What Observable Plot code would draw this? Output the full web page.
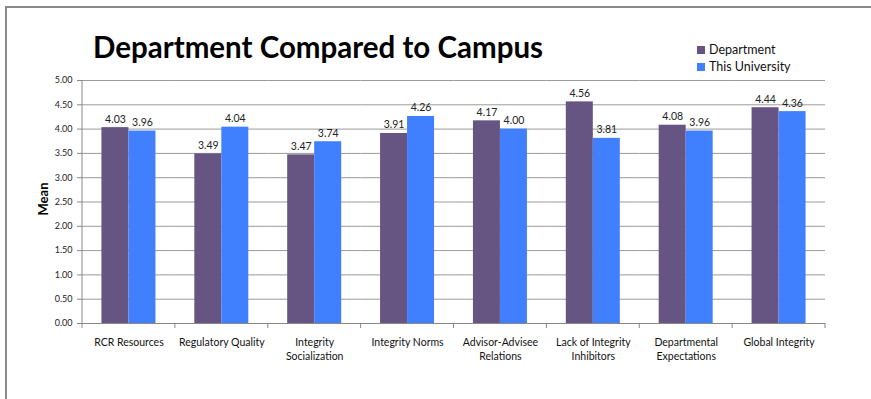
<!DOCTYPE html>
<html><head><meta charset="utf-8">
<script src="https://cdn.jsdelivr.net/npm/d3@7"></script>
<script src="https://cdn.jsdelivr.net/npm/@observablehq/plot@0.6"></script>
<style>
html,body{margin:0;background:#fff;overflow:hidden;}
#wrap{position:relative;width:871px;height:399px;overflow:hidden;font-family:Lato,sans-serif;}
#wrap svg{position:absolute;left:0;top:0;}
#title{position:absolute;left:0;width:636px;text-align:center;top:29px;font-weight:bold;font-size:29.5px;color:#000;white-space:nowrap;}
.leg{position:absolute;left:697px;font-size:12.5px;color:#111;white-space:nowrap;line-height:14px;}
.sw{display:inline-block;width:8px;height:8px;margin-right:4px;}
#ylab{position:absolute;left:43px;top:199px;transform:translate(-50%,-50%) rotate(-90deg);font-weight:bold;font-size:13px;color:#000;}
</style></head>
<body>
<div id="wrap">
<div id="title">Department Compared to Campus</div>
<div id="ylab">Mean</div>
</div>
<script>
const categories = ["RCR Resources","Regulatory Quality","Integrity\nSocialization","Integrity Norms","Advisor-Advisee\nRelations","Lack of Integrity\nInhibitors","Departmental\nExpectations","Global Integrity"];
const series = ["Department","This University"];
const department = [4.03,3.49,3.47,3.91,4.17,4.56,4.08,4.44];
const university = [3.96,4.04,3.74,4.26,4.00,3.81,3.96,4.36];
const yTicks = [0,0.5,1,1.5,2,2.5,3,3.5,4,4.5,5];
const colors = ["#665482","#4080ff"];

const data = categories.flatMap((c,i)=>[
  {cat:c,series:series[0],value:department[i]},
  {cat:c,series:series[1],value:university[i]}
]);

const plot = Plot.plot({
  width:871,height:399,marginLeft:82,marginRight:46,marginTop:80,marginBottom:76,
  style:{fontFamily:"Lato, sans-serif",background:"transparent",color:"#222"},
  fx:{domain:categories,padding:0,round:false},
  x:{domain:series,paddingInner:0,paddingOuter:0.72,round:false,axis:null},
  y:{domain:[0,5]},
  color:{domain:series,range:colors},
  marks:[
    Plot.gridY(yTicks,{stroke:"#9a9a9a",strokeOpacity:1}),
    Plot.axisY(yTicks,{tickSize:5,tickPadding:5,tickFormat:d3.format(".2f"),fontSize:9,label:null,stroke:"#888",fill:"#222"}),
    Plot.axisFx({anchor:"bottom",tickSize:0,tickPadding:13,fontSize:10.5,lineHeight:1.3,label:null,fill:"#111"}),
    Plot.barY(data,{fx:"cat",x:"series",y:"value",fill:"series"}),
    Plot.ruleY([0],{stroke:"#888"}),
    Plot.text(data,{fx:"cat",x:"series",y:"value",text:d=>d.value.toFixed(2),lineAnchor:"bottom",dy:-5,fontSize:10.5,fill:"#222"})
  ]
});

const fx = plot.scale("fx"), y = plot.scale("y");
const svg = d3.select(plot);
const y0 = y.apply(0), y5 = y.apply(5);
const bounds = categories.map(c=>fx.apply(c)).concat([fx.apply(categories[categories.length-1])+fx.bandwidth]);
svg.append("line").attr("x1",bounds[0]).attr("x2",bounds[0]).attr("y1",y5).attr("y2",y0).attr("stroke","#888");
svg.append("g").selectAll("line").data(bounds).join("line")
  .attr("x1",d=>d).attr("x2",d=>d).attr("y1",y0).attr("y2",y0+5).attr("stroke","#888");
// outer frame (top and left edges only)
svg.append("path").attr("d","M6,399V7H871").attr("fill","none").attr("stroke","#8a8a8a").attr("stroke-width",2);

const wrap = document.getElementById("wrap");
wrap.insertBefore(plot, wrap.firstChild);
series.forEach((s,i)=>{
  const d = document.createElement("div");
  d.className="leg";
  d.style.top=(43+i*17)+"px";
  d.innerHTML=`<span class="sw" style="background:${colors[i]}"></span>${s}`;
  wrap.appendChild(d);
});
</script>
</body></html>
